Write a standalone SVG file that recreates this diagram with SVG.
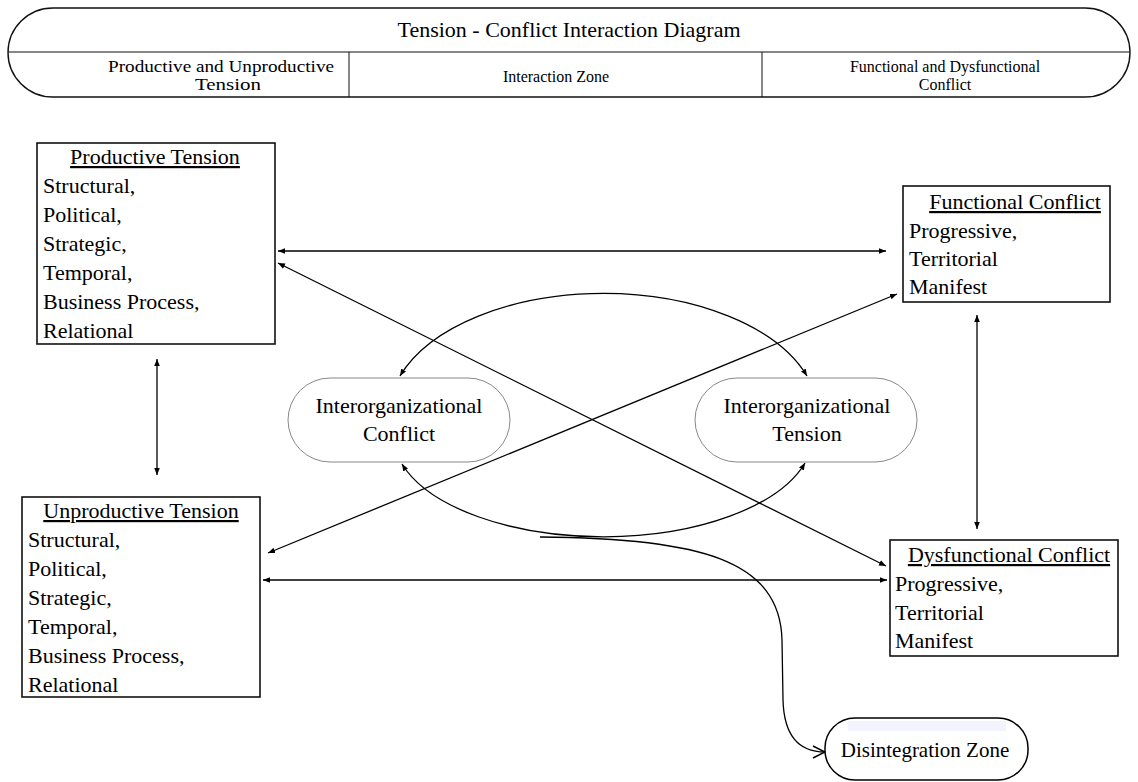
<svg xmlns="http://www.w3.org/2000/svg" width="1138" height="782" viewBox="0 0 1138 782">
<defs>
<marker id="ah" viewBox="0 0 10 10" refX="10" refY="5" markerWidth="7" markerHeight="7" markerUnits="userSpaceOnUse" orient="auto-start-reverse">
<path d="M0,1 L10,5 L0,9 z" fill="#000"/>
</marker>
<marker id="open" viewBox="0 0 14 14" refX="13" refY="7" markerWidth="14" markerHeight="14" markerUnits="userSpaceOnUse" orient="auto">
<path d="M1,1 L13,7 L1,13" fill="none" stroke="#000" stroke-width="1.4"/>
</marker>
<style>
text{font-family:"Liberation Serif","Times New Roman",serif;fill:#000}
.t{font-size:22px}
.h{font-size:16px;text-anchor:middle}
.ti{text-anchor:middle;text-decoration:underline}
.box{fill:#fff;stroke:#111;stroke-width:1.6}
.stad{fill:#fff;stroke:#888;stroke-width:1}
.c{fill:none;stroke:#000;stroke-width:1.3}
.d{marker-start:url(#ah);marker-end:url(#ah)}
</style>
</defs>
<g id="header">
<rect x="8" y="8" width="1122" height="89" rx="45" ry="44.5" fill="#fff" stroke="#111" stroke-width="1.4"/>
<line x1="8" y1="52" x2="1130" y2="52" stroke="#111" stroke-width="1.2"/>
<line x1="349" y1="52" x2="349" y2="97" stroke="#111" stroke-width="1"/>
<line x1="762" y1="52" x2="762" y2="97" stroke="#111" stroke-width="1"/>
<text x="569" y="37" style="font-size:22px" text-anchor="middle">Tension - Conflict Interaction Diagram</text>
<text class="h" x="221" y="72" textLength="226" lengthAdjust="spacingAndGlyphs">Productive and Unproductive</text>
<text class="h" x="228" y="90" textLength="66" lengthAdjust="spacingAndGlyphs">Tension</text>
<text class="h" x="556" y="82">Interaction Zone</text>
<text class="h" x="945" y="72">Functional and Dysfunctional</text>
<text class="h" x="945" y="90">Conflict</text>
</g>
<g id="connectors">
<line class="c d" x1="278" y1="251" x2="886" y2="251"/>
<line class="c d" x1="278" y1="263" x2="886" y2="566"/>
<line class="c d" x1="268" y1="553" x2="897" y2="294"/>
<line class="c d" x1="263" y1="580" x2="887" y2="580"/>
<line class="c d" x1="157" y1="359" x2="157" y2="475"/>
<line class="c d" x1="977" y1="315" x2="977" y2="529"/>
<path class="c d" d="M400,376 A215,122 0 0 1 807,376"/>
<path class="c d" d="M402,464 A210,102 0 0 0 805,463"/>
<path class="c" marker-end="url(#open)" d="M540,537 C700,538 780,560 782,640 L783,700 C784,737 800,752 825,752"/>
</g>
<g id="productive-tension">
<rect class="box" x="37" y="143" width="238" height="201"/>
<text class="t ti" x="155" y="164">Productive Tension</text>
<text class="t" x="43" y="193">Structural,</text>
<text class="t" x="43" y="222">Political,</text>
<text class="t" x="43" y="251">Strategic,</text>
<text class="t" x="43" y="280">Temporal,</text>
<text class="t" x="43" y="309">Business Process,</text>
<text class="t" x="43" y="338">Relational</text>
</g>
<g id="unproductive-tension">
<rect class="box" x="22" y="497" width="238" height="200"/>
<text class="t ti" x="141" y="518">Unproductive Tension</text>
<text class="t" x="28" y="547">Structural,</text>
<text class="t" x="28" y="576">Political,</text>
<text class="t" x="28" y="605">Strategic,</text>
<text class="t" x="28" y="634">Temporal,</text>
<text class="t" x="28" y="663">Business Process,</text>
<text class="t" x="28" y="692">Relational</text>
</g>
<g id="functional-conflict">
<rect class="box" x="903" y="186" width="207" height="116"/>
<text class="t ti" x="1015" y="209">Functional Conflict</text>
<text class="t" x="909" y="238">Progressive,</text>
<text class="t" x="909" y="266">Territorial</text>
<text class="t" x="909" y="294">Manifest</text>
</g>
<g id="dysfunctional-conflict">
<rect class="box" x="890" y="540" width="228" height="116"/>
<text class="t ti" x="1009" y="562">Dysfunctional Conflict</text>
<text class="t" x="895" y="591">Progressive,</text>
<text class="t" x="895" y="620">Territorial</text>
<text class="t" x="895" y="648">Manifest</text>
</g>
<g id="interorganizational-conflict">
<rect class="stad" x="288" y="378" width="222" height="84" rx="42"/>
<text class="t" x="399" y="413" text-anchor="middle">Interorganizational</text>
<text class="t" x="399" y="441" text-anchor="middle">Conflict</text>
</g>
<g id="interorganizational-tension">
<rect class="stad" x="695" y="378" width="222" height="84" rx="42"/>
<text class="t" x="807" y="413" text-anchor="middle">Interorganizational</text>
<text class="t" x="807" y="441" text-anchor="middle">Tension</text>
</g>
<g id="disintegration-zone">
<rect x="825" y="718" width="203" height="62" rx="30" fill="#fff" stroke="#000" stroke-width="1.5"/>
<rect x="848" y="721" width="158" height="10" fill="#f2f3fc"/>
<text x="925" y="757" style="font-size:21px" text-anchor="middle">Disintegration Zone</text>
</g>
</svg>
